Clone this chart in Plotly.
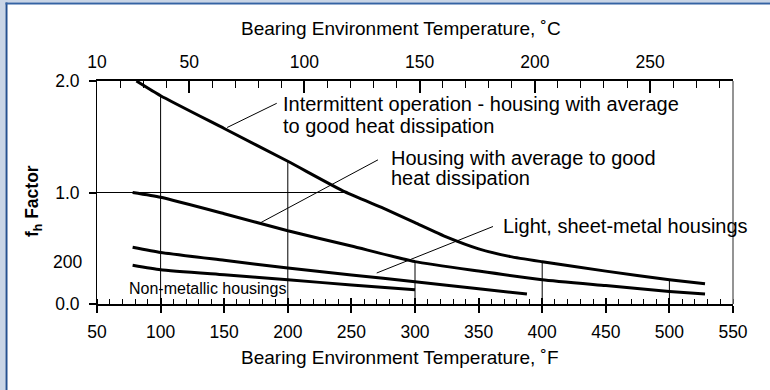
import plotly.graph_objects as go

# fh factor against bearing environment temperature (°F) for each housing type
intermittent_F = [81, 100, 150, 200, 245, 275, 300, 325, 350, 375, 400, 450, 500, 528]
intermittent_fh = [2.0, 1.868, 1.574, 1.28, 1.005, 0.86, 0.73, 0.6, 0.495, 0.425, 0.379, 0.295, 0.218, 0.182]

housing_F = [78, 100, 150, 200, 250, 300, 350, 400, 450, 500, 528]
housing_fh = [1.0, 0.957, 0.81, 0.657, 0.52, 0.38, 0.295, 0.218, 0.165, 0.113, 0.09]

sheet_F = [78, 100, 150, 200, 250, 300, 350, 388]
sheet_fh = [0.509, 0.462, 0.392, 0.323, 0.261, 0.20, 0.136, 0.09]

nonmetal_F = [78, 100, 150, 200, 250, 300]
nonmetal_fh = [0.348, 0.307, 0.262, 0.218, 0.17, 0.128]

# reading lines: verticals from a curve down to the °F axis, horizontal at fh = 1.0
guide_F = [100, 200, 300, 400, 500]
guide_top = [1.868, 1.28, 0.38, 0.379, 0.218]
level_fh = 1.0
level_F_end = 245

# axis ticks
F_ticks = [50, 100, 150, 200, 250, 300, 350, 400, 450, 500, 550]
C_ticks = [10, 50, 100, 150, 200, 250]
fh_ticks = [0, 1, 2]
fh_labels = ["0.0", "1.0", "2.0"]
fh_extra_value = 0.38
fh_extra_label = "200"

# labels
title_C = "Bearing Environment Temperature, ˚C"
title_F = "Bearing Environment Temperature, ˚F"
title_fh = "<b>f<sub>h</sub> Factor</b>"
label_inter = ["Intermittent operation - housing with average", "to good heat dissipation"]
label_housing = ["Housing with average to good", "heat dissipation"]
label_sheet = "Light, sheet-metal housings"
label_nonmetal = "Non-metallic housings"

FONT = "Liberation Sans, Arial, sans-serif"
W, H = 770, 390
L, R, T, B = 97, 37, 81, 86
PW, PH = W - L - R, H - T - B


def px(x):
    return (x - L) / PW


def py(y):
    return (T + PH - y) / PH


fig = go.Figure()

curve = dict(color="black", width=3, shape="spline", smoothing=0.5)
for xs, ys in [(intermittent_F, intermittent_fh), (housing_F, housing_fh),
               (sheet_F, sheet_fh), (nonmetal_F, nonmetal_fh)]:
    fig.add_trace(go.Scatter(x=xs, y=ys, mode="lines", line=curve,
                             hoverinfo="skip", showlegend=False))

gx, gy = [], []
for f, top in zip(guide_F, guide_top):
    gx += [f, f, None]
    gy += [0, top, None]
gx += [F_ticks[0], level_F_end]
gy += [level_fh, level_fh]
fig.add_trace(go.Scatter(x=gx, y=gy, mode="lines",
                         line=dict(color="black", width=1),
                         hoverinfo="skip", showlegend=False))

# invisible traces that bring up the °C axis and the inner major ticks
fig.add_trace(go.Scatter(x=[C_ticks[0]], y=[0], xaxis="x2", mode="markers",
                         marker=dict(opacity=0), hoverinfo="skip", showlegend=False))
fig.add_trace(go.Scatter(x=[F_ticks[0]], y=[0], xaxis="x3", mode="markers",
                         marker=dict(opacity=0), hoverinfo="skip", showlegend=False))

tickfont = dict(family=FONT, size=17.5, color="black")

fig.update_layout(
    width=W, height=H,
    margin=dict(l=L, r=R, t=T, b=B),
    paper_bgcolor="white", plot_bgcolor="white",
    showlegend=False,
    xaxis=dict(range=[50, 550], tickvals=F_ticks, ticks="outside", ticklen=7,
               tickwidth=1.5, tickcolor="black", showline=True, linewidth=2,
               linecolor="black", showgrid=False, zeroline=False,
               tickfont=tickfont, ticklabelstandoff=4,
               minor=dict(dtick=10, tick0=50, ticks="inside", ticklen=5,
                          tickwidth=1.2, tickcolor="black", showgrid=False)),
    xaxis3=dict(range=[50, 550], overlaying="x", side="bottom", anchor="y",
                tickvals=F_ticks, ticks="inside", ticklen=6, tickwidth=1.5,
                tickcolor="black", showticklabels=False, showline=False,
                showgrid=False, zeroline=False),
    xaxis2=dict(range=[10, 286], overlaying="x", side="top", anchor="y",
                tickvals=C_ticks, ticks="inside", ticklen=12, tickwidth=1.5,
                tickcolor="black", showline=True, linewidth=2, linecolor="black",
                showgrid=False, zeroline=False, tickfont=tickfont,
                ticklabelstandoff=4,
                minor=dict(dtick=10, tick0=10, ticks="inside", ticklen=7,
                           tickwidth=1.2, tickcolor="black", showgrid=False)),
    yaxis=dict(range=[0, 2], tickvals=fh_ticks, ticktext=fh_labels,
               ticks="outside", ticklen=7, tickwidth=1.5, tickcolor="black",
               showline=True, linewidth=1, linecolor="black", showgrid=False,
               zeroline=False, tickfont=tickfont, ticklabelstandoff=6),
)

ann = []


def text(t, x, y, size, xanchor="left", angle=0):
    ann.append(dict(text=t, x=px(x), y=py(y), xref="paper", yref="paper",
                    xanchor=xanchor, yanchor="middle", showarrow=False,
                    textangle=angle,
                    font=dict(family=FONT, size=size, color="black")))


text(title_C, 401, 28.5, 19, "center")
text(title_F, 400, 357.5, 19, "center")
text(title_fh, 33, 201, 17.5, "center", angle=-90)
text(label_inter[0], 280.5, 104.2, 20)
text(label_inter[1], 280.5, 125.5, 20)
text(label_housing[0], 389, 157.5, 20)
text(label_housing[1], 389, 178, 20)
text(label_sheet, 500.5, 226, 20)
text(label_nonmetal, 127, 288, 16)
ann.append(dict(text=fh_extra_label, x=px(84), y=fh_extra_value, xref="paper", yref="y",
                xanchor="right", yanchor="middle", showarrow=False,
                font=tickfont))
fig.update_layout(annotations=ann)

shapes = []
# leader lines from the labels to their curves
leaders = [((191.3, 1.80), (152.3, 1.583)),
           ((270.9, 1.293), (178.1, 0.726)),
           ((361.3, 0.695), (269.9, 0.278))]
for (x0, y0), (x1, y1) in leaders:
    shapes.append(dict(type="line", xref="x", yref="y", x0=x0, y0=y0, x1=x1, y1=y1,
                       line=dict(color="black", width=1)))
# right frame edge
shapes.append(dict(type="line", xref="paper", yref="paper", x0=1, x1=1, y0=0, y1=1,
                   line=dict(color="#707070", width=1.5)))
# page border strips
shapes.append(dict(type="rect", xref="paper", yref="paper", x0=px(0), x1=px(5.5),
                   y0=py(H), y1=py(0), fillcolor="#c9d5e6", line=dict(width=0),
                   layer="below"))
shapes.append(dict(type="rect", xref="paper", yref="paper", x0=px(0), x1=px(W),
                   y0=py(2.5), y1=py(0), fillcolor="#c9d5e6", line=dict(width=0),
                   layer="below"))
shapes.append(dict(type="rect", xref="paper", yref="paper", x0=px(5.5), x1=px(7.5),
                   y0=py(H), y1=py(2.5), fillcolor="#24508f", line=dict(width=0)))
shapes.append(dict(type="rect", xref="paper", yref="paper", x0=px(5.5), x1=px(W),
                   y0=py(4.5), y1=py(2.5), fillcolor="#3563a3", line=dict(width=0)))
fig.update_layout(shapes=shapes)

fig.write_html("out.html")
